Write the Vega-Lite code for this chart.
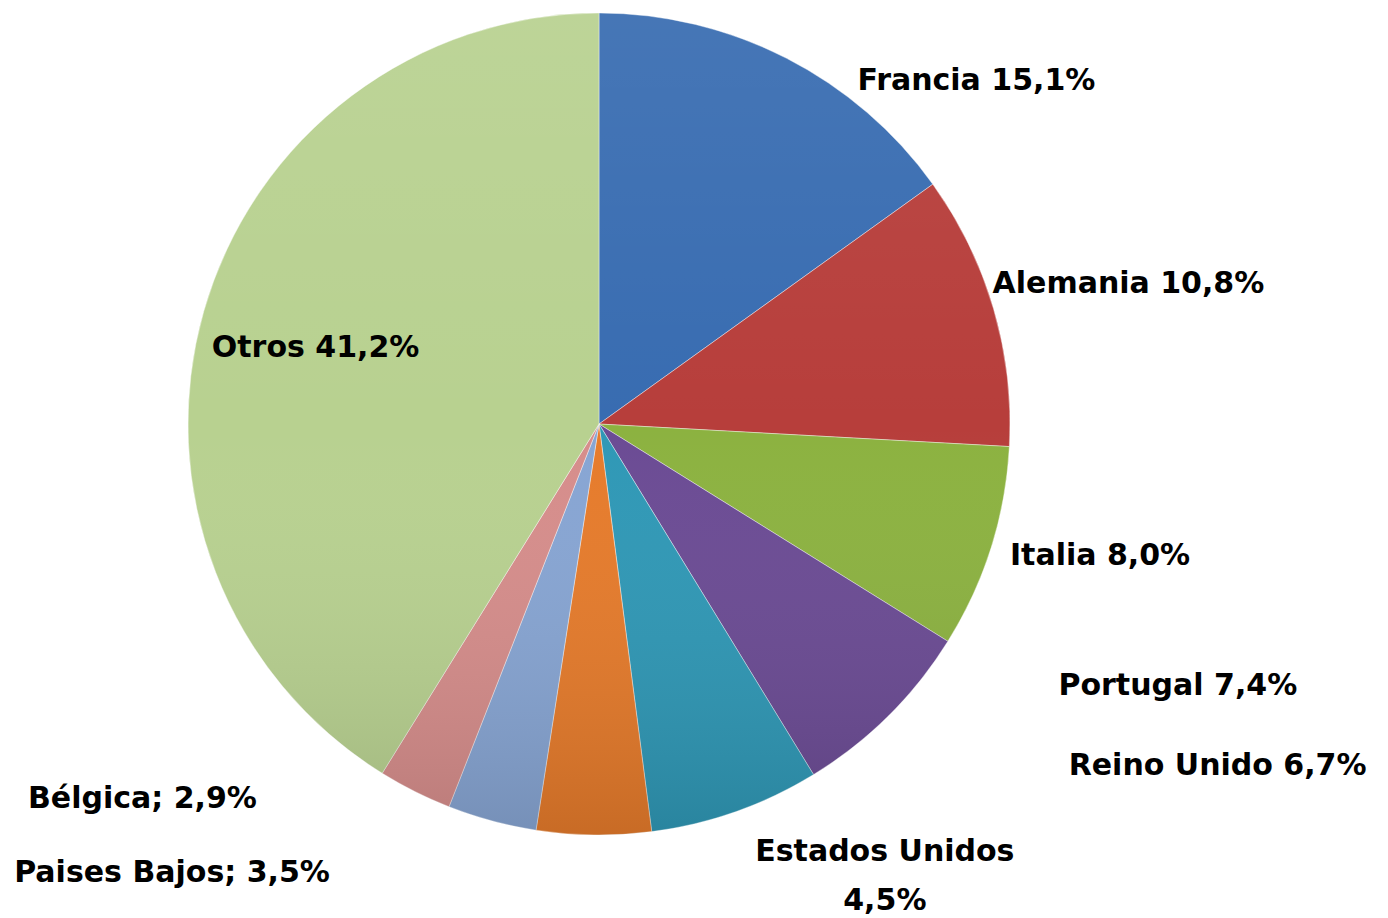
{
  "$schema": "https://vega.github.io/schema/vega-lite/v6.json",
  "width": 822,
  "height": 822,
  "autosize": {"type": "none"},
  "padding": {"left": 188, "top": 13, "right": 378, "bottom": 83},
  "background": "#ffffff",
  "config": {"view": {"stroke": null}},
  "data": {
    "values": [
      {"country": "Francia", "value": 15.1, "order": 1, "label": "Francia 15,1%"},
      {"country": "Alemania", "value": 10.8, "order": 2, "label": "Alemania 10,8%"},
      {"country": "Italia", "value": 8.0, "order": 3, "label": "Italia 8,0%"},
      {"country": "Portugal", "value": 7.4, "order": 4, "label": "Portugal 7,4%"},
      {"country": "Reino Unido", "value": 6.7, "order": 5, "label": "Reino Unido 6,7%"},
      {"country": "Estados Unidos", "value": 4.5, "order": 6, "label": "Estados Unidos\n4,5%"},
      {"country": "Paises Bajos", "value": 3.5, "order": 7, "label": "Paises Bajos; 3,5%"},
      {"country": "Bélgica", "value": 2.9, "order": 8, "label": "Bélgica; 2,9%"},
      {"country": "Otros", "value": 41.2, "order": 9, "label": "Otros 41,2%"}
    ]
  },
  "resolve": {"scale": {"theta": "independent"}},
  "layer": [
    {
      "mark": {"type": "arc", "stroke": "#ffffff", "strokeWidth": 1, "strokeOpacity": 0.4},
      "encoding": {
        "theta": {"field": "value", "type": "quantitative", "stack": true},
        "order": {"field": "order", "type": "quantitative"},
        "color": {
          "field": "country",
          "type": "nominal",
          "legend": null,
          "scale": {
            "domain": ["Francia", "Alemania", "Italia", "Portugal", "Reino Unido", "Estados Unidos", "Paises Bajos", "Bélgica", "Otros"],
            "range": ["#386cb1", "#b73e3b", "#8cb240", "#6b4b94", "#2f98b6", "#e67b2b", "#87a5d3", "#d68d8b", "#b8d190"]
          }
        }
      }
    },
    {
      "data": {"values": [{"v": 1}]},
      "mark": {
        "type": "arc",
        "fill": {
          "gradient": "linear",
          "x1": 0, "y1": 0, "x2": 0, "y2": 1,
          "stops": [
            {"offset": 0, "color": "rgba(255,255,255,0.07)"},
            {"offset": 0.5, "color": "rgba(255,255,255,0)"},
            {"offset": 1, "color": "rgba(0,0,0,0.13)"}
          ]
        }
      },
      "encoding": {"theta": {"field": "v", "type": "quantitative"}}
    },
    {
      "mark": {"type": "text", "radius": 411, "dx": 71, "dy": 32, "align": "left", "baseline": "alphabetic", "font": "DejaVu Sans", "fontWeight": "bold", "fontSize": 30, "color": "#000000"},
      "encoding": {
        "theta": {"field": "value", "type": "quantitative", "stack": true},
        "order": {"field": "order", "type": "quantitative"},
        "text": {"condition": {"test": "datum.country === 'Francia'", "field": "label"}, "value": ""}
      }
    },
    {
      "mark": {"type": "text", "radius": 411, "dx": -1, "dy": -16, "align": "left", "baseline": "alphabetic", "font": "DejaVu Sans", "fontWeight": "bold", "fontSize": 30, "color": "#000000"},
      "encoding": {
        "theta": {"field": "value", "type": "quantitative", "stack": true},
        "order": {"field": "order", "type": "quantitative"},
        "text": {"condition": {"test": "datum.country === 'Alemania'", "field": "label"}, "value": ""}
      }
    },
    {
      "mark": {"type": "text", "radius": 411, "dx": 19, "dy": 17, "align": "left", "baseline": "alphabetic", "font": "DejaVu Sans", "fontWeight": "bold", "fontSize": 30, "color": "#000000"},
      "encoding": {
        "theta": {"field": "value", "type": "quantitative", "stack": true},
        "order": {"field": "order", "type": "quantitative"},
        "text": {"condition": {"test": "datum.country === 'Italia'", "field": "label"}, "value": ""}
      }
    },
    {
      "mark": {"type": "text", "radius": 411, "dx": 170, "dy": -21, "align": "left", "baseline": "alphabetic", "font": "DejaVu Sans", "fontWeight": "bold", "fontSize": 30, "color": "#000000"},
      "encoding": {
        "theta": {"field": "value", "type": "quantitative", "stack": true},
        "order": {"field": "order", "type": "quantitative"},
        "text": {"condition": {"test": "datum.country === 'Portugal'", "field": "label"}, "value": ""}
      }
    },
    {
      "mark": {"type": "text", "radius": 411, "dx": 333, "dy": -37, "align": "left", "baseline": "alphabetic", "font": "DejaVu Sans", "fontWeight": "bold", "fontSize": 30, "color": "#000000"},
      "encoding": {
        "theta": {"field": "value", "type": "quantitative", "stack": true},
        "order": {"field": "order", "type": "quantitative"},
        "text": {"condition": {"test": "datum.country === 'Reino Unido'", "field": "label"}, "value": ""}
      }
    },
    {
      "mark": {"type": "text", "radius": 411, "dx": 291, "dy": 26, "align": "center", "baseline": "alphabetic", "lineBreak": "\n", "lineHeight": 49, "font": "DejaVu Sans", "fontWeight": "bold", "fontSize": 30, "color": "#000000"},
      "encoding": {
        "theta": {"field": "value", "type": "quantitative", "stack": true},
        "order": {"field": "order", "type": "quantitative"},
        "text": {"condition": {"test": "datum.country === 'Estados Unidos'", "field": "label"}, "value": ""}
      }
    },
    {
      "mark": {"type": "text", "radius": 411, "dx": -162, "dy": 61, "align": "right", "baseline": "alphabetic", "font": "DejaVu Sans", "fontWeight": "bold", "fontSize": 30, "color": "#000000"},
      "encoding": {
        "theta": {"field": "value", "type": "quantitative", "stack": true},
        "order": {"field": "order", "type": "quantitative"},
        "text": {"condition": {"test": "datum.country === 'Paises Bajos'", "field": "label"}, "value": ""}
      }
    },
    {
      "mark": {"type": "text", "radius": 411, "dx": -158, "dy": 17, "align": "right", "baseline": "alphabetic", "font": "DejaVu Sans", "fontWeight": "bold", "fontSize": 30, "color": "#000000"},
      "encoding": {
        "theta": {"field": "value", "type": "quantitative", "stack": true},
        "order": {"field": "order", "type": "quantitative"},
        "text": {"condition": {"test": "datum.country === 'Bélgica'", "field": "label"}, "value": ""}
      }
    },
    {
      "mark": {"type": "text", "radius": 411, "dx": 8, "dy": 46, "align": "left", "baseline": "alphabetic", "font": "DejaVu Sans", "fontWeight": "bold", "fontSize": 30, "color": "#000000"},
      "encoding": {
        "theta": {"field": "value", "type": "quantitative", "stack": true},
        "order": {"field": "order", "type": "quantitative"},
        "text": {"condition": {"test": "datum.country === 'Otros'", "field": "label"}, "value": ""}
      }
    }
  ]
}
